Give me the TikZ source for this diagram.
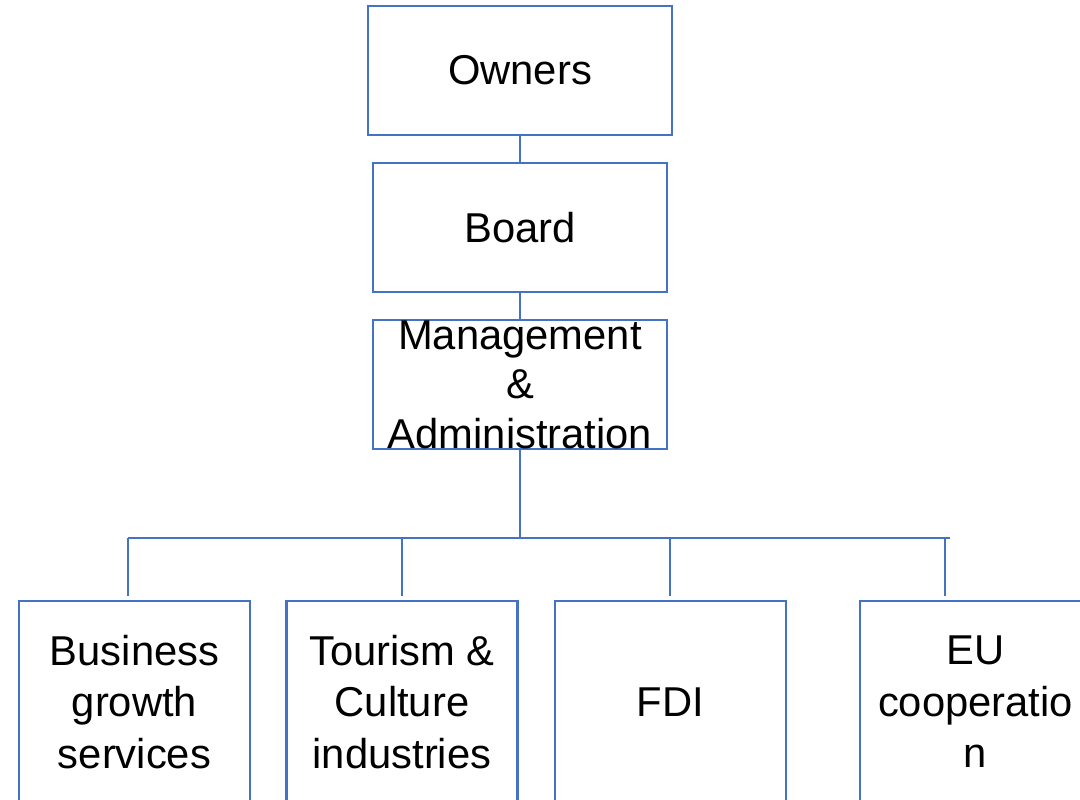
\documentclass[tikz,border=0pt]{standalone}
\usepackage{fontspec}
\setmainfont{Liberation Sans}
\usetikzlibrary{positioning}
\definecolor{orgblue}{HTML}{4472C4}
\begin{document}
\begin{tikzpicture}[
  x=0.75pt, y=-0.75pt,
  txt/.style={align=center, font=\fontsize{31.3}{37.2}\selectfont},
  unit/.style={rectangle, draw=orgblue, line width=1.8pt, inner sep=0pt, minimum width=220.5pt, minimum height=96.75pt, txt},
  dept/.style={unit, minimum width=173.25pt, minimum height=151.5pt, font=\fontsize{31.3}{38.7}\selectfont},
  link/.style={draw=orgblue, line width=1.8pt},
  drop/.style={draw=orgblue, line width=1.5pt, shorten >=3pt},
  node distance=117.75pt
]
\useasboundingbox (0,0) rectangle (1080,799);
% top of the chart
\node[unit, minimum width=228pt] (owners) at (520,70.5) {Owners};
\node[unit, below of=owners] (board) {Board};
\node[unit, below of=board, label={[txt]center:Management\\\&\\Administration}] (mgmt) {};

% departments
\node[dept] (bgs) at (134.5,702) {Business\\growth\\services};
\node[dept, right of=bgs, node distance=200.6pt] (tci) {Tourism \&\\Culture\\industries};
\node[dept, right of=tci, node distance=201.2pt] (fdi) {FDI};
\node[dept, right of=fdi, node distance=228.9pt] (euc) {EU\\cooperatio\\n};

\coordinate (bgsJ) at (128,538);
\coordinate (eucJ) at (944.6,538);
\coordinate (barEnd) at (950,538);

\draw[link] (owners) -- (board);
\draw[link] (board) -- (mgmt);
\draw[link] (mgmt.south) -- (mgmt.south |- bgsJ);
\draw[link, line width=2.1pt] (bgsJ) -- (barEnd);
\draw[drop] (bgsJ) -- (bgsJ |- bgs.north);
\draw[drop] (tci.north |- bgsJ) -- (tci.north);
\draw[drop] (fdi.north |- bgsJ) -- (fdi.north);
\draw[drop] (eucJ) -- (eucJ |- euc.north);
\end{tikzpicture}
\end{document}
